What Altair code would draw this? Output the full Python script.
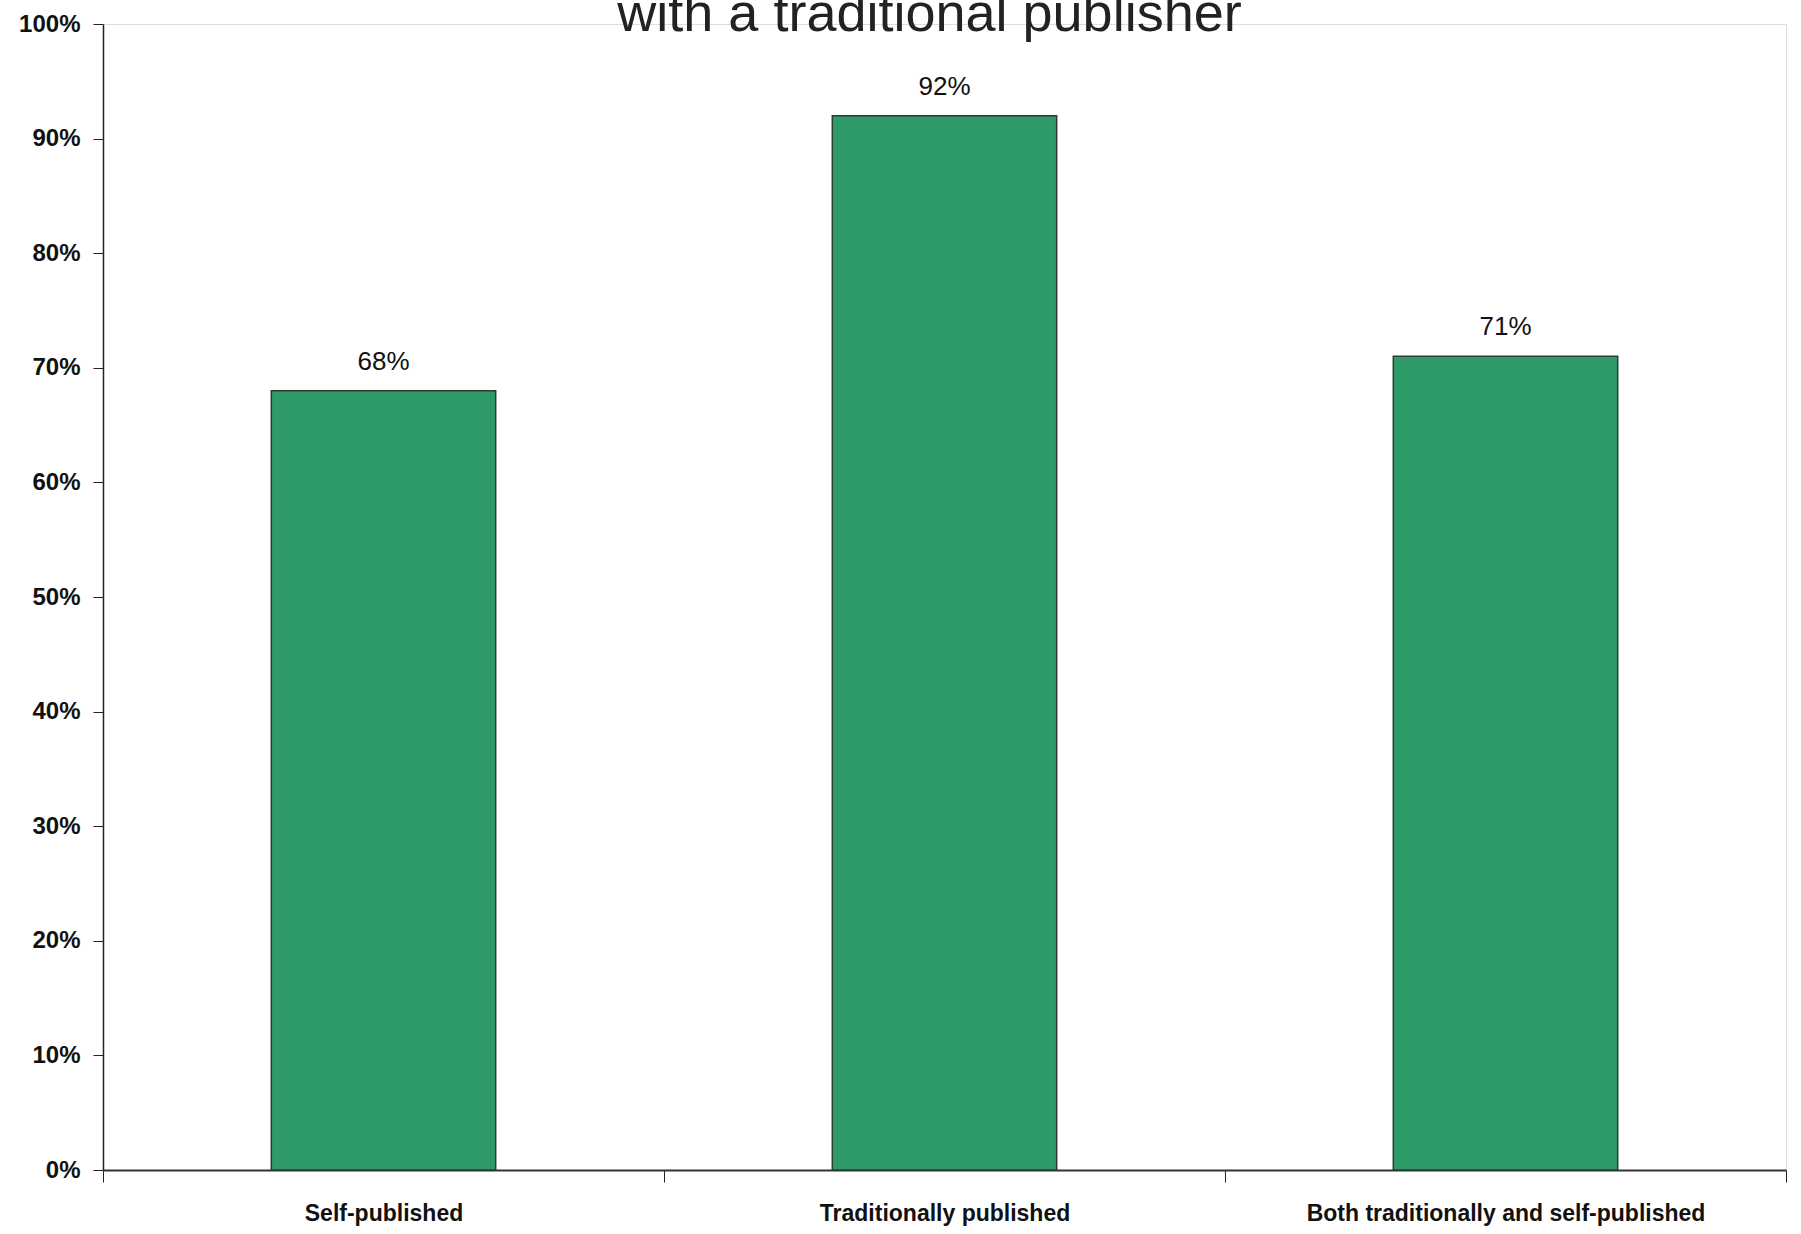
import altair as alt
import pandas as pd

categories = ["Self-published", "Traditionally published", "Both traditionally and self-published"]
values = [0.68, 0.92, 0.71]
labels = ["68%", "92%", "71%"]
title_text = ["with a traditional publisher"]

df = pd.DataFrame({"cat": categories, "val": values, "lab": labels})
tdf = pd.DataFrame({"t": title_text})

FONT = "Liberation Sans, Arial, sans-serif"
W, H = 1683, 1146

x = alt.X(
    "cat:N",
    sort=categories,
    title=None,
    scale=alt.Scale(paddingInner=0, paddingOuter=0),
    axis=alt.Axis(
        labelAngle=0,
        tickBand="extent",
        tickSize=12,
        tickColor="#222",
        tickWidth=1,
        domainColor="#333",
        domainWidth=2,
        labelFont=FONT,
        labelFontSize=23,
        labelFontWeight="bold",
        labelColor="#111",
        labelPadding=20,
        labelLimit=0,
    ),
)
y = alt.Y(
    "val:Q",
    title=None,
    scale=alt.Scale(domain=[0, 1]),
    axis=alt.Axis(
        format=".0%",
        values=[i / 10 for i in range(11)],
        grid=False,
        tickSize=10,
        tickColor="#222",
        domainColor="#222",
        domainWidth=1.5,
        labelFont=FONT,
        labelFontSize=24,
        labelFontWeight="bold",
        labelColor="#111",
        labelPadding=13,
    ),
)

bars = alt.Chart(df).mark_bar(
    color="#2e9b69", stroke="#2f3a33", strokeWidth=1.5,
    width=alt.RelativeBandSize(0.4),
).encode(x=x, y=y)

text = alt.Chart(df).mark_text(
    baseline="bottom", dy=-16, font=FONT, fontSize=26, color="#111"
).encode(x=alt.X("cat:N", sort=categories), y="val:Q", text="lab:N")

title = alt.Chart(tdf).mark_text(
    baseline="alphabetic", align="center", font=FONT, fontSize=54, color="#222"
).encode(x=alt.value(W / 2 - 15), y=alt.value(7), text="t:N")

chart = (
    alt.layer(bars, text, title)
    .properties(
        width=W,
        height=H,
        autosize=alt.AutoSizeParams(type="none"),
        padding={"left": 103, "top": 24, "right": 15, "bottom": 64},
    )
    .configure_view(stroke=None)
    .configure(background="white")
)

chart.save("out.html", embed_options={"renderer": "svg", "actions": False})
